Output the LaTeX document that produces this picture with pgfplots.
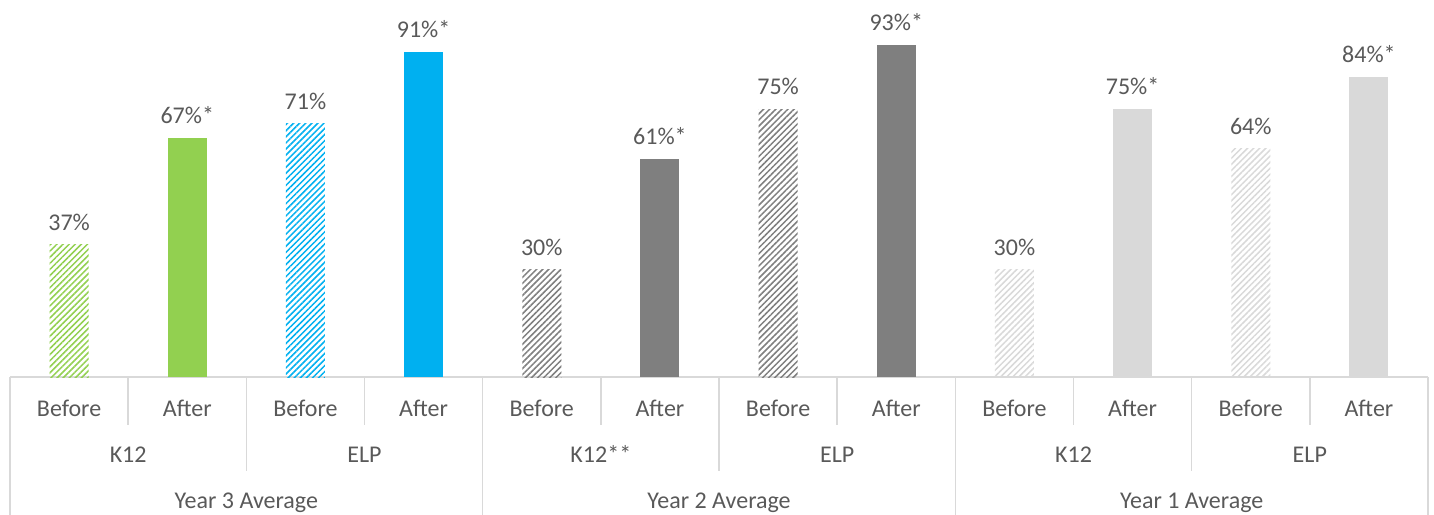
\documentclass[border=0pt]{standalone}
\usepackage{pgfplots}
\pgfplotsset{compat=1.18}
\usetikzlibrary{patterns.meta}
\usepackage{fontspec}
\setmainfont{Carlito}

\definecolor{cgreen}{HTML}{92D050}
\definecolor{cblue}{HTML}{00B0F0}
\definecolor{cdark}{HTML}{7F7F7F}
\definecolor{clight}{HTML}{D9D9D9}
\definecolor{ctext}{HTML}{595959}
\definecolor{cgrid}{HTML}{D9D9D9}

\tikzset{
  hatch/.style={draw=none, pattern={Lines[angle=45,distance=4.3pt,line width=1.5pt]}, pattern color=#1},
  solid bar/.style={draw=none, fill=#1},
  lbl/.style={font=\fontsize{24}{28}\selectfont, text=ctext, anchor=base, inner sep=0pt},
  sep/.style={draw=cgrid, line width=1.6pt},
}

\begin{document}
\begin{tikzpicture}
\useasboundingbox (0,0) rectangle (1434pt,514pt);
\begin{axis}[
  at={(10pt,137pt)}, anchor=south west,
  scale only axis, width=1418pt, height=377pt,
  xmin=-0.5, xmax=11.5, ymin=0, ymax=105.6,
  hide y axis,
  axis x line*=bottom,
  x axis line style={draw=cgrid, line width=1.6pt, -},
  xtick=\empty, ytick=\empty,
  ybar, bar width=39pt, bar shift=0pt,
  clip=false,
  nodes near coords,
  every node near coord/.append style={font=\fontsize{24}{28}\selectfont, text=ctext, inner sep=0pt, yshift=14pt},
]
% Year 3 Average
\addplot[hatch=cgreen, nodes near coords={37\%}] coordinates {(0,37)};
\addplot[solid bar=cgreen, nodes near coords={67\%*}] coordinates {(1,67)};
\addplot[hatch=cblue, nodes near coords={71\%}] coordinates {(2,71)};
\addplot[solid bar=cblue, nodes near coords={91\%*}] coordinates {(3,91)};
% Year 2 Average
\addplot[hatch=cdark, nodes near coords={30\%}] coordinates {(4,30)};
\addplot[solid bar=cdark, nodes near coords={61\%*}] coordinates {(5,61)};
\addplot[hatch=cdark, nodes near coords={75\%}] coordinates {(6,75)};
\addplot[solid bar=cdark, nodes near coords={93\%*}] coordinates {(7,93)};
% Year 1 Average
\addplot[hatch=clight, nodes near coords={30\%}] coordinates {(8,30)};
\addplot[solid bar=clight, nodes near coords={75\%*}] coordinates {(9,75)};
\addplot[hatch=clight, nodes near coords={64\%}] coordinates {(10,64)};
\addplot[solid bar=clight, nodes near coords={84\%*}] coordinates {(11,84)};

% category separators
\pgfplotsinvokeforeach{0.5,2.5,4.5,6.5,8.5,10.5}{
  \draw[sep] (axis cs:#1,0) -- ([yshift=-48pt]axis cs:#1,0);
}
\pgfplotsinvokeforeach{1.5,5.5,9.5}{
  \draw[sep] (axis cs:#1,0) -- ([yshift=-94pt]axis cs:#1,0);
}
\pgfplotsinvokeforeach{-0.5,3.5,7.5,11.5}{
  \draw[sep] (axis cs:#1,0) -- ([yshift=-140pt]axis cs:#1,0);
}

% category labels
\pgfplotsinvokeforeach{0,2,4,6,8,10}{
  \node[lbl] at ([yshift=-39pt]axis cs:#1,0) {Before};
}
\pgfplotsinvokeforeach{1,3,5,7,9,11}{
  \node[lbl] at ([yshift=-39pt]axis cs:#1,0) {After};
}
\node[lbl] at ([yshift=-85.5pt]axis cs:0.5,0) {K12};
\node[lbl] at ([yshift=-85.5pt]axis cs:2.5,0) {ELP};
\node[lbl] at ([yshift=-85.5pt]axis cs:4.5,0) {K12**};
\node[lbl] at ([yshift=-85.5pt]axis cs:6.5,0) {ELP};
\node[lbl] at ([yshift=-85.5pt]axis cs:8.5,0) {K12};
\node[lbl] at ([yshift=-85.5pt]axis cs:10.5,0) {ELP};
\node[lbl] at ([yshift=-131.5pt]axis cs:1.5,0) {Year 3 Average};
\node[lbl] at ([yshift=-131.5pt]axis cs:5.5,0) {Year 2 Average};
\node[lbl] at ([yshift=-131.5pt]axis cs:9.5,0) {Year 1 Average};
\end{axis}
\end{tikzpicture}
\end{document}
